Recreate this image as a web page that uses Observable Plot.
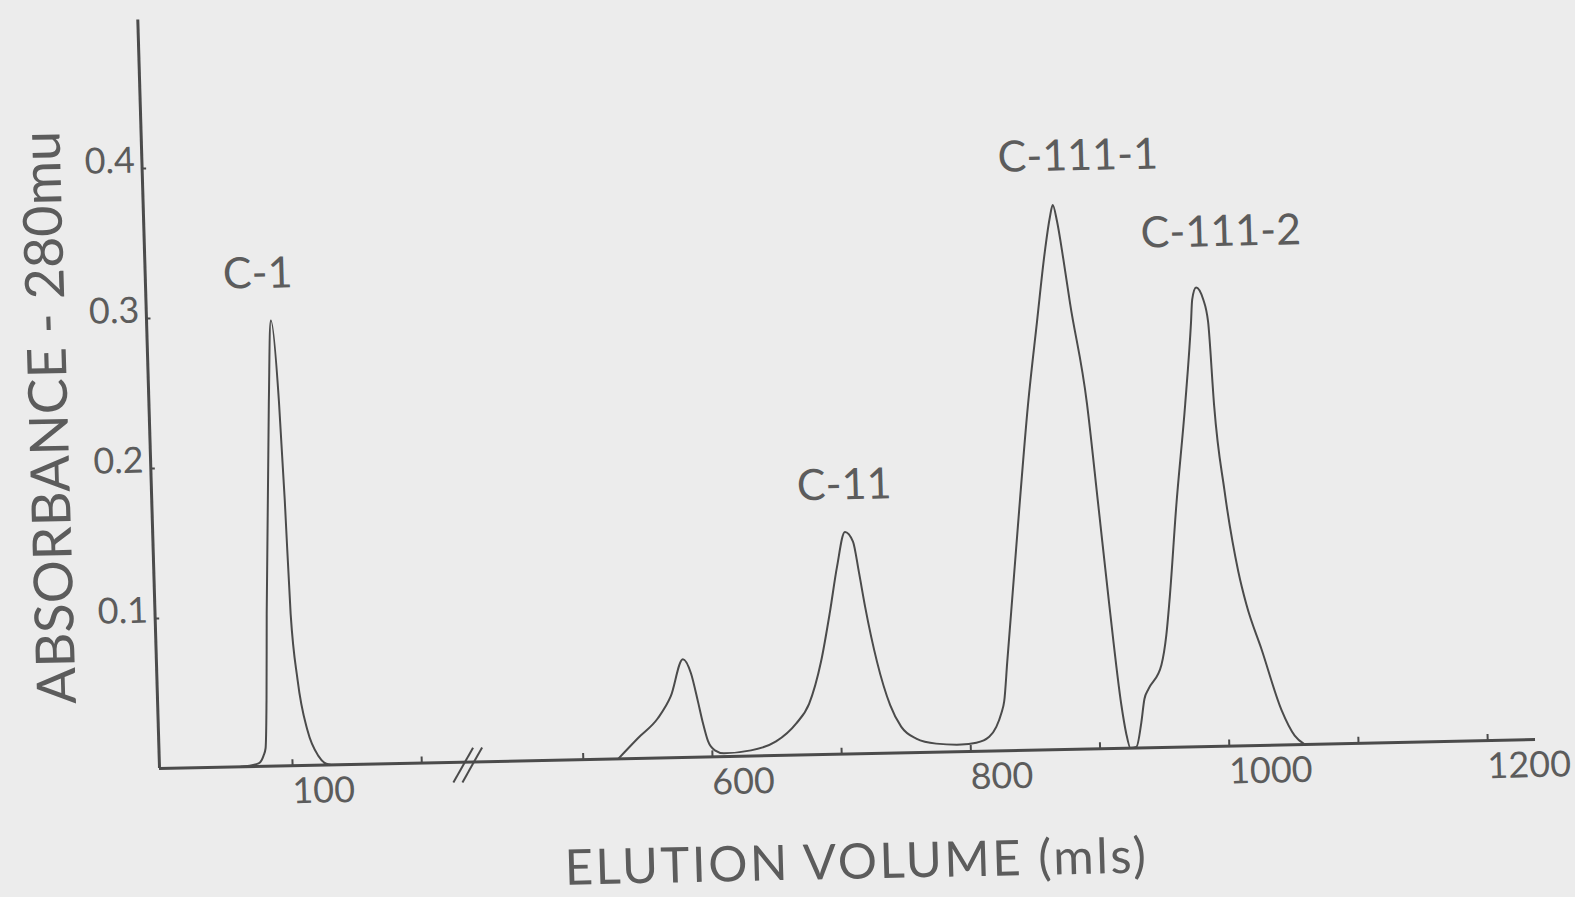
<!DOCTYPE html>
<html>
<head>
<meta charset="utf-8">
<script src="https://cdn.jsdelivr.net/npm/d3@7"></script>
<script src="https://cdn.jsdelivr.net/npm/@observablehq/plot@0.6"></script>
<style>
  html, body { margin: 0; padding: 0; background: #ececec; }
  #chart { width: 1575px; height: 897px; overflow: hidden; }
  /* the original sheet sits slightly askew on the page */
  #chart svg { display: block; transform-origin: 159px 768px; transform: matrix(1, -0.021, 0.029, 1, 0, 0); }
</style>
</head>
<body>
<div id="chart"></div>
<script>
// Elution profile: absorbance at 280 mu against elution volume (ml).
// The early fraction (C-1) and the later run share one axis with a break.
const peakC1 = [
  [60, 0], [73.7, 0.002], [77.7, 0.007], [79.5, 0.012], [81.3, 0.044],
  [83.4, 0.102], [89.8, 0.243], [93.2, 0.297], [97.6, 0.243], [99.9, 0.177],
  [101.9, 0.101], [105.8, 0.057], [112.4, 0.023], [120.3, 0.006],
  [125.6, 0.001], [130, 0]
];

const laterRun = [
  [527, 0], [542.7, 0.0135], [558.6, 0.0265], [569.1, 0.041], [579.3, 0.0655],
  [585.2, 0.056], [590, 0.037], [593.4, 0.0225], [596.9, 0.0105], [602, 0.0043],
  [609, 0.0022], [629.9, 0.0038], [649.5, 0.0094], [665.4, 0.021], [675.9, 0.034],
  [686.1, 0.062], [694.1, 0.095], [700.6, 0.125], [707.5, 0.148], [713.5, 0.1415],
  [717.4, 0.121], [721.4, 0.098], [729.4, 0.061], [738.6, 0.032], [746.6, 0.0175],
  [758, 0.0093], [773.3, 0.0057], [792.7, 0.0047], [804.4, 0.0057], [814.5, 0.0095],
  [820.2, 0.016], [824.4, 0.025], [826.9, 0.033], [830.1, 0.059], [834.3, 0.0925],
  [842.6, 0.159], [851.9, 0.23], [860.7, 0.285], [868.4, 0.332], [873.1, 0.355],
  [875.6, 0.363], [878.5, 0.352], [882.5, 0.327], [886.7, 0.2975], [897.6, 0.23],
  [904, 0.163], [910.3, 0.096], [917.4, 0.029], [920.5, 0.01], [923.5, 0],
  [928.1, 0.0007], [932.5, 0.017], [935.4, 0.0325], [938.7, 0.039], [949.3, 0.055],
  [953.8, 0.075], [956.9, 0.097], [964.4, 0.161], [973.5, 0.228], [979.9, 0.283],
  [981.3, 0.298], [984.6, 0.306], [989.8, 0.298], [993.1, 0.283], [995.9, 0.227],
  [1001.9, 0.171], [1010.9, 0.116], [1016.4, 0.094], [1027.1, 0.064],
  [1041.3, 0.023], [1050.8, 0.006], [1058.3, 0]
];

const peakNames = ["C-1", "C-11", "C-111-1", "C-111-2"];
const peakNameMl = [84, 708, 896, 1005];
const peakNameAbs = [0.328, 0.179, 0.395, 0.3425];

const xTicks = [100, 200, 500, 600, 700, 800, 900, 1000, 1100, 1200];
const xTickLabels = [100, 600, 800, 1000, 1200];
const yTicks = [0.1, 0.2, 0.3, 0.4];

const xTitle = "ELUTION VOLUME (mls)";
const yTitle = "ABSORBANCE - 280mu";

const volumeRange = [-3, 1237];
const absorbanceRange = [0, 0.5];
const yAxisTop = 0.499;
const breakAt = 232;     // where the axis is broken
const skipped = 175;     // ml left out by the break

// piecewise scale input: volumes past the break are pulled left by the skipped span
const brk = v => (v < breakAt + 60 ? v : v - skipped);

const ink = "#4b4b4b";
const textInk = "#5c5c5c";
const font = "Lato, 'Open Sans', sans-serif";

const x0 = brk(volumeRange[0]);

const chart = Plot.plot({
  width: 1575,
  height: 897,
  marginLeft: 159,
  marginRight: 40,
  marginTop: 18,
  marginBottom: 129,
  x: { domain: volumeRange.map(brk), axis: null },
  y: { domain: absorbanceRange, axis: null },
  style: { background: "transparent", fontFamily: font, overflow: "visible" },
  marks: [
    // axes
    Plot.ruleY([0], { stroke: ink, strokeWidth: 3 }),
    Plot.ruleX([x0], { y1: 0, y2: yAxisTop, stroke: ink, strokeWidth: 3 }),
    // tick stubs
    Plot.ruleX(xTicks, { x: brk, y1: 0, y2: 0.004, stroke: ink, strokeWidth: 2 }),
    Plot.ruleY(yTicks, { x1: x0, x2: x0 + 3.5, stroke: ink, strokeWidth: 2 }),
    // tick labels
    Plot.text(xTickLabels, {
      x: brk, y: 0, text: d => String(d), textAnchor: "start", lineAnchor: "top",
      dx: -1, dy: 12, fontSize: 36, fill: textInk, fontFamily: font
    }),
    Plot.text(yTicks, {
      x: x0, y: d => d, text: d => d.toFixed(1), textAnchor: "end", lineAnchor: "bottom",
      dx: -7, dy: 4, fontSize: 36, fill: textInk, fontFamily: font
    }),
    // axis break
    Plot.link([0, 1], {
      x1: i => breakAt - 8 + i * 7, y1: -0.0135,
      x2: i => breakAt + 8 + i * 7, y2: 0.0095,
      stroke: ink, strokeWidth: 2
    }),
    // elution curves
    Plot.line(peakC1, { x: d => brk(d[0]), y: d => d[1], curve: "monotone-x", stroke: ink, strokeWidth: 2 }),
    Plot.line(laterRun, { x: d => brk(d[0]), y: d => d[1], curve: "monotone-x", stroke: ink, strokeWidth: 2 }),
    // peak names
    Plot.text(peakNames, {
      x: (d, i) => brk(peakNameMl[i]), y: (d, i) => peakNameAbs[i], text: d => d,
      fontSize: 43, fill: textInk, fontFamily: font
    }),
    // axis titles
    Plot.text([xTitle], {
      frameAnchor: "bottom", textAnchor: "middle", lineAnchor: "middle",
      dx: 6, dy: 109, fontSize: 49, fill: textInk, fontFamily: font
    }),
    Plot.text([yTitle], {
      frameAnchor: "left", textAnchor: "middle", lineAnchor: "middle",
      dx: -99, dy: 22, rotate: -90, fontSize: 54, fill: textInk, fontFamily: font
    })
  ]
});

// the horizontal title is set with wide tracking
d3.select(chart).selectAll("text")
  .filter(function () { return this.textContent === xTitle; })
  .style("letter-spacing", "2.5px");

document.getElementById("chart").appendChild(chart);
</script>
</body>
</html>
